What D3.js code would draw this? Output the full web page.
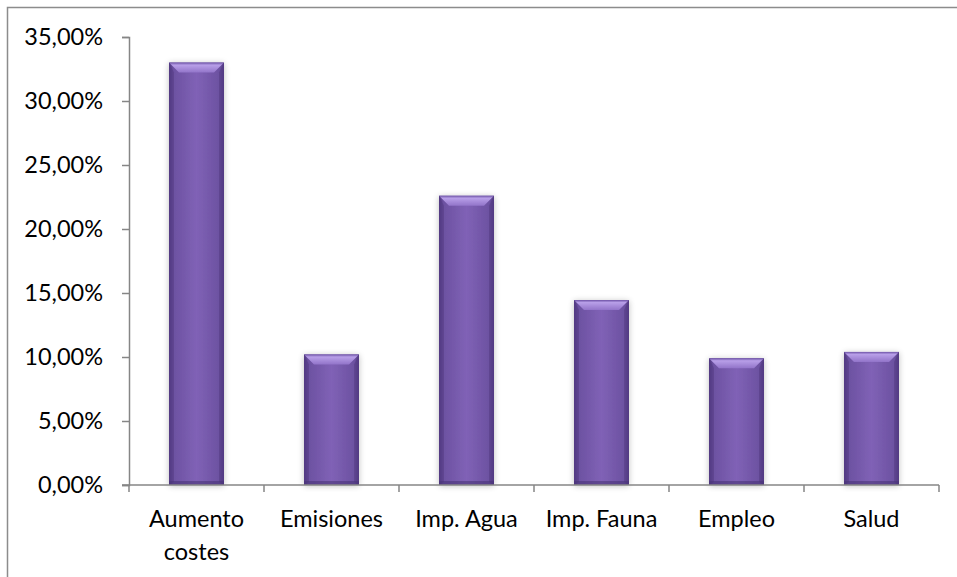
<!DOCTYPE html>
<html><head><meta charset="utf-8">
<script src="https://cdn.jsdelivr.net/npm/d3@7/dist/d3.min.js"></script>
<style>body{margin:0;background:#fff}svg{display:block}</style>
</head><body><svg id="c" width="957" height="577"></svg>
<script>
const categories = ["Aumento costes","Emisiones","Imp. Agua","Imp. Fauna","Empleo","Salud"];
const values = [33.0, 10.2, 22.6, 14.45, 9.9, 10.4];
const yTicks = [0,5,10,15,20,25,30,35];

const svg = d3.select("#c");
const W = 957, H = 577;
const m = {l:129, r:18, t:37, b:92};
const font = "Lato, 'Open Sans', sans-serif";
const fs = 23.5;
const axisColor = "#868686";

// outer border (top and left visible)
svg.append("path").attr("d", `M7.5,${H} V7.5 H${W}`).attr("fill","none").attr("stroke","#8c8c8c").attr("stroke-width",1.5);

const x = d3.scaleBand().domain(categories).range([m.l, W - m.r]).paddingInner(0).paddingOuter(0);
const y = d3.scaleLinear().domain([0,35]).range([H - m.b, m.t]);

const defs = svg.append("defs");
const g1 = defs.append("linearGradient").attr("id","barg").attr("x1","0").attr("x2","1").attr("y1","0").attr("y2","0");
[[0,"#553d85"],[0.08,"#6c51a1"],[0.5,"#8062b6"],[0.92,"#6c51a1"],[1,"#553d85"]].forEach(s=>g1.append("stop").attr("offset",s[0]).attr("stop-color",s[1]));
const g2 = defs.append("linearGradient").attr("id","bevel").attr("x1","0").attr("x2","0").attr("y1","0").attr("y2","1");
[[0,"#6d52a6"],[0.25,"#b89fe8"],[1,"#9274c9"]].forEach(s=>g2.append("stop").attr("offset",s[0]).attr("stop-color",s[1]));
const f = defs.append("filter").attr("id","sh").attr("x","-20%").attr("y","-5%").attr("width","140%").attr("height","110%");
f.append("feGaussianBlur").attr("in","SourceAlpha").attr("stdDeviation",3).attr("result","b");
f.append("feOffset").attr("in","b").attr("dx",0).attr("dy",1).attr("result","o");
f.append("feComponentTransfer").attr("in","o").attr("result","o2").append("feFuncA").attr("type","linear").attr("slope",0.25);
const mg = f.append("feMerge"); mg.append("feMergeNode").attr("in","o2"); mg.append("feMergeNode").attr("in","SourceGraphic");

const bw = 55;
const bars = svg.append("g").selectAll("g").data(categories).join("g").attr("filter","url(#sh)");
bars.append("rect")
  .attr("x", d => x(d) + x.bandwidth()/2 - bw/2)
  .attr("y", (d,i) => y(values[i]))
  .attr("width", bw)
  .attr("height", (d,i) => y(0) - y(values[i]))
  .attr("fill","url(#barg)");
const bv = 10;
bars.append("path")
  .attr("d", (d,i) => {
    const x0 = x(d) + x.bandwidth()/2 - bw/2, x1 = x0 + bw, t = y(values[i]);
    return `M${x0},${t} H${x1} L${x1-bv},${t+bv} H${x0+bv} Z`;
  })
  .attr("fill","url(#bevel)");
bars.append("path")
  .attr("d", (d,i) => {
    const x0 = x(d) + x.bandwidth()/2 - bw/2, t = y(values[i]), b = y(0);
    return `M${x0},${t} L${x0+bv*0.5},${t+bv} V${b-3} L${x0},${b} Z`;
  }).attr("fill","#4f3880").attr("opacity",0.5);
bars.append("path")
  .attr("d", (d,i) => {
    const x1 = x(d) + x.bandwidth()/2 + bw/2, t = y(values[i]), b = y(0);
    return `M${x1},${t} L${x1-bv*0.5},${t+bv} V${b-3} L${x1},${b} Z`;
  }).attr("fill","#4f3880").attr("opacity",0.5);
bars.append("rect")
  .attr("x", d => x(d) + x.bandwidth()/2 - bw/2)
  .attr("y", y(0)-4).attr("width", bw).attr("height",4)
  .attr("fill","#4a3478").attr("opacity",0.6);

// Y axis
const ya = svg.append("g").attr("transform",`translate(${m.l},0)`)
  .call(d3.axisLeft(y).tickValues(yTicks).tickSize(7).tickPadding(19)
    .tickFormat(d => d.toFixed(2).replace(".",",") + "%"));
ya.select(".domain").attr("stroke",axisColor).attr("stroke-width",1.5);
ya.selectAll(".tick line").attr("stroke",axisColor).attr("stroke-width",1.5);
ya.selectAll("text").attr("font-family",font).attr("font-size",fs).attr("fill","#000");

// X axis
const xa = svg.append("g").attr("transform",`translate(0,${y(0)})`)
  .call(d3.axisBottom(x).tickSize(0).tickFormat(""));
xa.select(".domain").attr("d", `M${m.l-7},0 H${W-m.r}`).attr("stroke",axisColor).attr("stroke-width",1.5);
const edges = [x.range()[0]].concat(categories.map(c => x(c) + x.bandwidth()));
xa.selectAll(".edge").data(edges).join("line").attr("class","edge")
  .attr("x1",d=>d).attr("x2",d=>d).attr("y1",0).attr("y2",7)
  .attr("stroke",axisColor).attr("stroke-width",1.5);

const lab = svg.append("g").selectAll("text").data(categories).join("text")
  .attr("x", d => x(d) + x.bandwidth()/2)
  .attr("y", y(0) + 42)
  .attr("text-anchor","middle")
  .attr("font-family",font).attr("font-size",fs).attr("fill","#000");
lab.each(function(d){
  const t = d3.select(this);
  const words = d === "Aumento costes" ? ["Aumento","costes"] : [d];
  words.forEach((w,i)=> t.append("tspan").attr("x", x(d)+x.bandwidth()/2).attr("dy", i?33:0).text(w));
});
</script></body></html>
